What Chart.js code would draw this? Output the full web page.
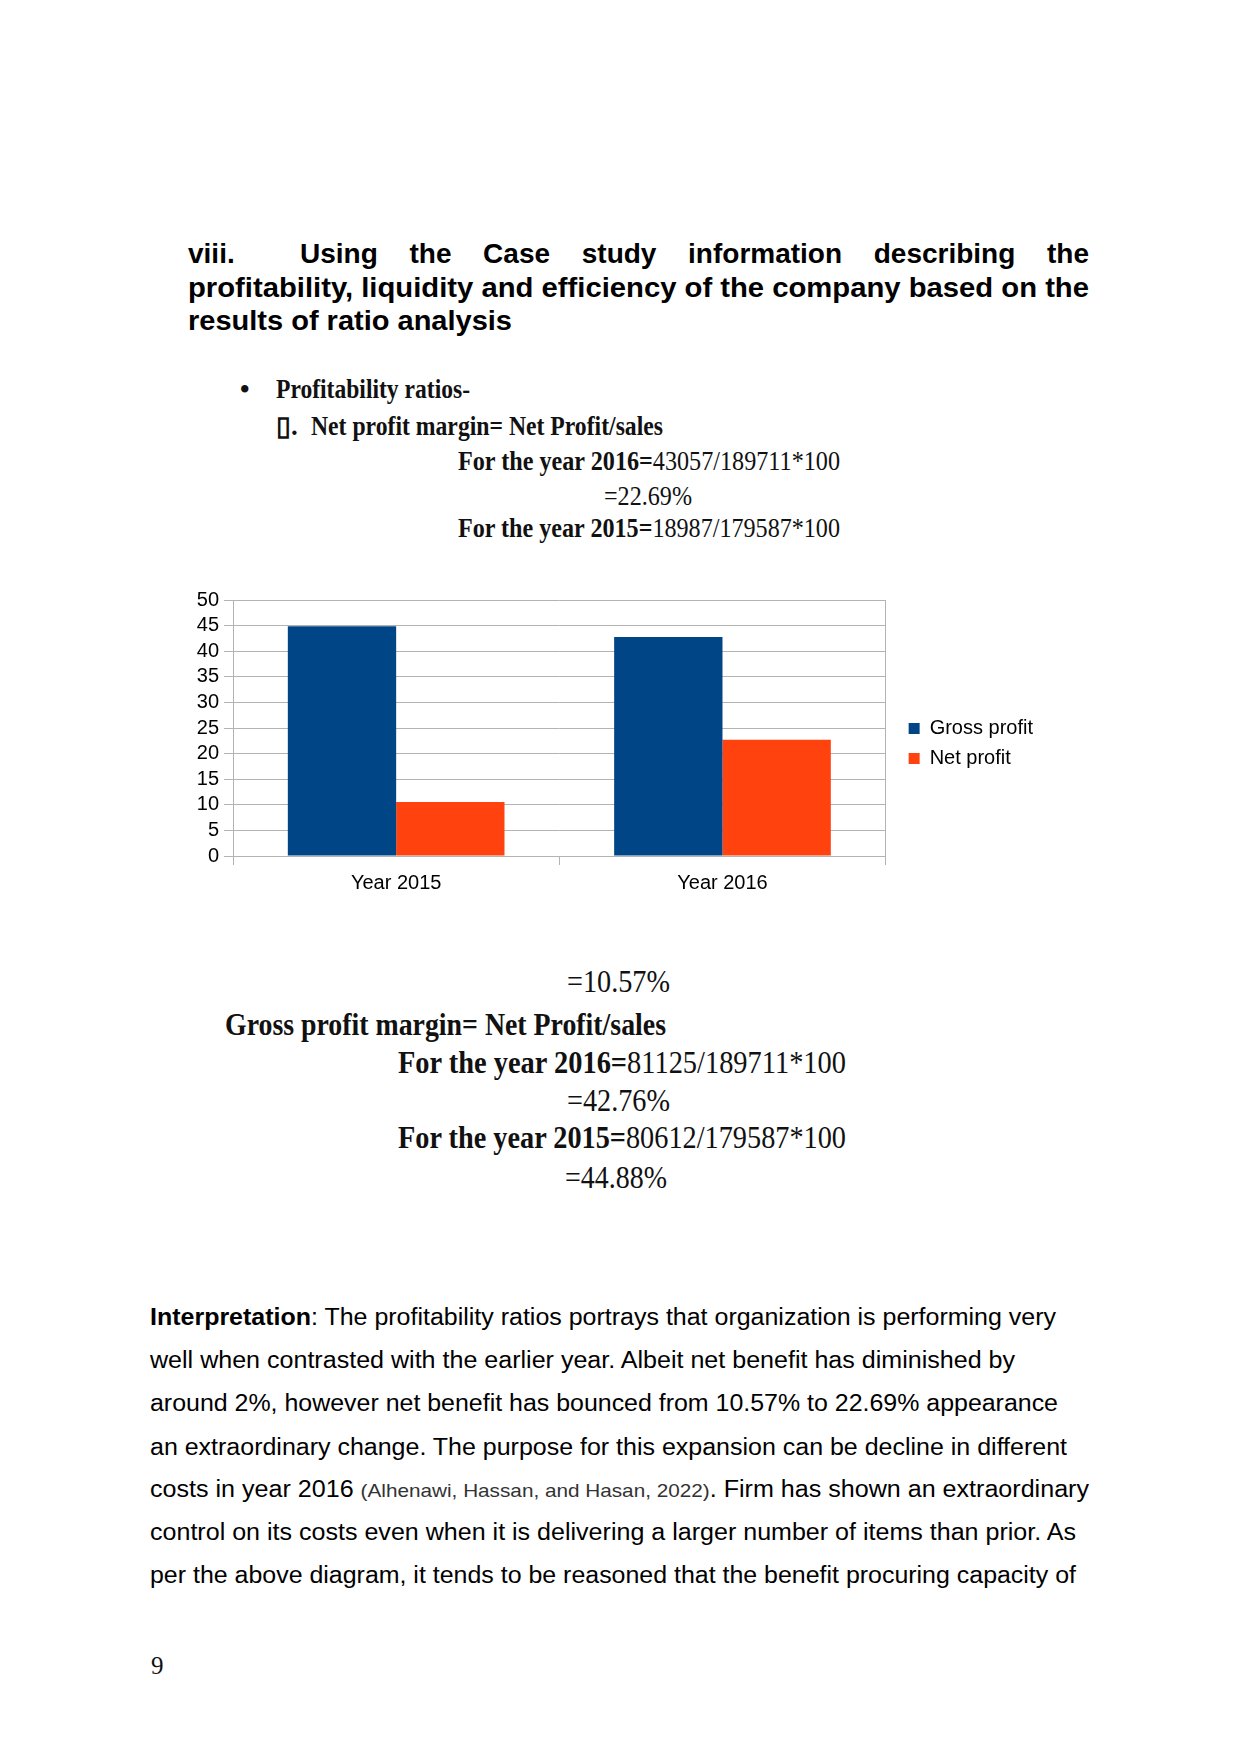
<!DOCTYPE html>
<html>
<head>
<meta charset="utf-8">
<title>Profitability ratios</title>
<script src="https://cdn.jsdelivr.net/npm/chart.js"></script>
<style>
  html, body { margin: 0; padding: 0; background: #fff; }
  body {
    width: 1241px; height: 1754px; position: relative; overflow: hidden;
    font-family: "Liberation Sans", Arial, sans-serif; color: #000;
  }
  .t { position: absolute; white-space: nowrap; line-height: 1; transform-origin: 0 50%; }
  .h { font-weight: bold; font-size: 28px; }
  .s { font-family: "Liberation Serif", serif; color: #111; }
  .s b { font-weight: bold; }
  .s1 { font-size: 27px; }
  .s2 { font-size: 32px; }
  .p { font-size: 23px; }
  .cite { font-size: 19px; color: #333; }
  #chartBox { position: absolute; left: 180px; top: 580px; width: 870px; height: 330px; }
</style>
</head>
<body>

<!-- heading -->
<div class="t h" data-x="188" data-y="254">viii.</div>
<div class="t h" data-x="300" data-y="254" style="width:789px;white-space:normal;text-align:justify;text-align-last:justify;">Using the Case study information describing the</div>
<div class="t h" data-x="188" data-y="288" data-w="901">profitability, liquidity and efficiency of the company based on the</div>
<div class="t h" data-x="188" data-y="321" data-w="324">results of ratio analysis</div>

<!-- formulas above the chart -->
<div class="t s s1" data-x="240" data-y="389"><b>•</b></div>
<div class="t s s1" data-x="276" data-y="389" data-w="194"><b>Profitability ratios-</b></div>
<div class="t s s1" data-x="276" data-y="426"><b>▯.</b></div>
<div class="t s s1" data-x="311" data-y="426" data-w="352"><b>Net profit margin= Net Profit/sales</b></div>
<div class="t s s1" data-x="458" data-y="461" data-w="382"><b>For the year 2016=</b>43057/189711*100</div>
<div class="t s s1" data-x="604" data-y="496" data-w="88">=22.69%</div>
<div class="t s s1" data-x="458" data-y="528" data-w="382"><b>For the year 2015=</b>18987/179587*100</div>

<div id="chartBox"><canvas id="ratioChart"></canvas></div>

<!-- formulas below the chart -->
<div class="t s s2" data-x="567" data-y="981" data-w="103">=10.57%</div>
<div class="t s s2" data-x="225" data-y="1024" data-w="441"><b>Gross profit margin= Net Profit/sales</b></div>
<div class="t s s2" data-x="398" data-y="1062" data-w="448"><b>For the year 2016=</b>81125/189711*100</div>
<div class="t s s2" data-x="567" data-y="1100" data-w="103">=42.76%</div>
<div class="t s s2" data-x="398" data-y="1137" data-w="448"><b>For the year 2015=</b>80612/179587*100</div>
<div class="t s s2" data-x="565" data-y="1177" data-w="102">=44.88%</div>

<!-- interpretation -->
<div class="t p" data-x="150" data-y="1317" data-w="906"><b>Interpretation</b>: The profitability ratios portrays that organization is performing very</div>
<div class="t p" data-x="150" data-y="1360" data-w="865">well when contrasted with the earlier year. Albeit net benefit has diminished by</div>
<div class="t p" data-x="150" data-y="1403" data-w="908">around 2%, however net benefit has bounced from 10.57% to 22.69% appearance</div>
<div class="t p" data-x="150" data-y="1447" data-w="917">an extraordinary change. The purpose for this expansion can be decline in different</div>
<div class="t p" data-x="150" data-y="1489" data-w="939">costs in year 2016 <span class="cite">(Alhenawi, Hassan, and Hasan, 2022)</span>. Firm has shown an extraordinary</div>
<div class="t p" data-x="150" data-y="1532" data-w="926">control on its costs even when it is delivering a larger number of items than prior. As</div>
<div class="t p" data-x="150" data-y="1575" data-w="926">per the above diagram, it tends to be reasoned that the benefit procuring capacity of</div>

<div class="t s" data-x="151" data-y="1665" style="font-size:25px;">9</div>

<script>
  const categories = ["Year 2015", "Year 2016"];
  const grossProfit = [44.88, 42.76];
  const netProfit = [10.57, 22.69];
  const yMin = 0;
  const yMax = 50;
  const yStep = 5;

  // place the text lines, squeeze each one to the width it has on the page
  document.querySelectorAll(".t").forEach((el) => {
    const size = parseFloat(getComputedStyle(el).fontSize);
    el.style.left = el.dataset.x + "px";
    el.style.top = el.dataset.y - size / 2 + "px";
    if (el.dataset.w) {
      const natural = el.getBoundingClientRect().width;
      el.style.transform = `scaleX(${el.dataset.w / natural})`;
    }
  });

  const gridGray = "#b3b3b3";

  // legend sits a bit further from the plot than Chart.js puts it
  const legendNudge = {
    id: "legendNudge",
    afterLayout(chart) {
      const lg = chart.legend;
      lg.left += 13;
      lg.right += 13;
      lg.top -= 7;
      lg.bottom -= 7;
    },
  };

  Chart.defaults.font.family = '"Liberation Sans", Arial, sans-serif';
  Chart.defaults.font.size = 20;
  Chart.defaults.color = "#000";

  new Chart(document.getElementById("ratioChart"), {
    type: "bar",
    data: {
      labels: categories,
      datasets: [
        {
          label: "Gross profit",
          data: grossProfit,
          backgroundColor: "#004586",
          categoryPercentage: 0.664,
          barPercentage: 1,
        },
        {
          label: "Net profit",
          data: netProfit,
          backgroundColor: "#ff420e",
          categoryPercentage: 0.664,
          barPercentage: 1,
        },
      ],
    },
    options: {
      responsive: true,
      maintainAspectRatio: false,
      animation: false,
      layout: { padding: { top: 20, right: 20, bottom: 9, left: 0 } },
      scales: {
        x: {
          grid: {
            offset: true,
            color: (c) => (c.index === 1 ? "rgba(0,0,0,0)" : gridGray),
            tickColor: gridGray,
            tickLength: 9,
          },
          border: { color: gridGray },
          ticks: { padding: 6 },
          afterFit: (scale) => {
            scale.height = 45;
          },
        },
        y: {
          min: yMin,
          max: yMax,
          ticks: { stepSize: yStep, padding: 5, autoSkip: false },
          grid: { color: gridGray, tickColor: gridGray, tickLength: 9 },
          border: { color: gridGray },
          afterFit: (scale) => {
            scale.width = 53;
          },
        },
      },
      plugins: {
        legend: {
          position: "right",
          labels: { boxWidth: 11, boxHeight: 11, padding: 10 },
        },
        tooltip: { enabled: false },
      },
    },
    plugins: [legendNudge],
  });
</script>
</body>
</html>
